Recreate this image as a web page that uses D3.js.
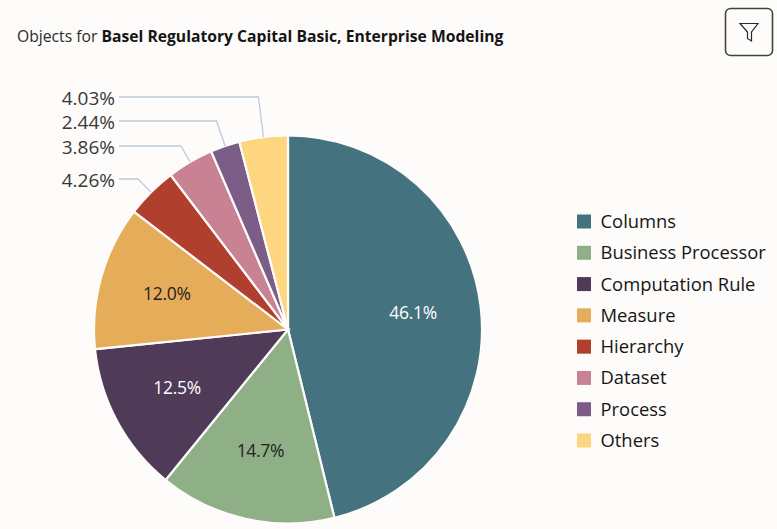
<!DOCTYPE html>
<html><head><meta charset="utf-8">
<script src="https://cdn.jsdelivr.net/npm/d3@7/dist/d3.min.js"></script>
<style>html,body{margin:0;padding:0;background:#fdfcfb;overflow:hidden}svg{display:block}text{font-family:"Open Sans",sans-serif}</style>
</head><body><svg id="c" width="777" height="529"></svg>
<script>
const categories=["Columns","Business Processor","Computation Rule","Measure","Hierarchy","Dataset","Process","Others"];
const values=[46.1,14.7,12.5,12.0,4.26,3.86,2.44,4.03];
const labels=["46.1%","14.7%","12.5%","12.0%","4.26%","3.86%","2.44%","4.03%"];
const colors=["#44727e","#8fb087","#4f3a57","#e5ac5a","#b13f2e","#c98294","#7c5d88","#fdd67f"];
const labelInk=["#ffffff","#1f1f1f","#ffffff","#1f1f1f"];
const leaderRows=[null,null,null,null,179,146,121,97];

const svg=d3.select("#c");
svg.append("rect").attr("x",-6).attr("y",-2).attr("width",800).attr("height",540).attr("rx",8)
  .attr("fill","#fdfcfb").attr("stroke","#d6d4cf").attr("stroke-width",2);
const t=svg.append("text").attr("x",17).attr("y",41.5).attr("font-size",15.7).attr("fill","#2c2a28");
t.append("tspan").text("Objects for ");
t.append("tspan").attr("font-weight",700).attr("fill","#161513").text("Basel Regulatory Capital Basic, Enterprise Modeling");
svg.append("rect").attr("x",725.5).attr("y",8.5).attr("width",47).attr("height",47).attr("rx",5)
  .attr("fill","none").attr("stroke","#454340").attr("stroke-width",1.6);
svg.append("path").attr("d","M740 23.5H758L751.5 32V41L747.5 38.5V32Z").attr("fill","none").attr("stroke","#2a2a2a").attr("stroke-width",1.2);

const cx=288,cy=329.5,R=194;
const g=svg.append("g").attr("transform",`translate(${cx},${cy})`);
const pie=d3.pie().sort(null).value(d=>d)(values);
const arc=d3.arc().innerRadius(0).outerRadius(R);
const inner=d3.arc().innerRadius(126).outerRadius(126);
g.selectAll("path.s").data(pie).join("path").attr("class","s").attr("d",arc)
  .attr("fill",(d,i)=>colors[i]).attr("stroke","#fdfcfb").attr("stroke-width",2.2);
g.selectAll("text.in").data(pie.slice(0,4)).join("text").attr("class","in")
  .attr("x",d=>inner.centroid(d)[0]).attr("y",d=>inner.centroid(d)[1]-1.5).attr("dy","0.35em")
  .attr("text-anchor","middle").attr("font-size",17.5).attr("letter-spacing",-0.3)
  .attr("fill",(d,i)=>labelInk[i]).text((d,i)=>labels[i]);
const LX=119-cx;
pie.forEach((d,i)=>{
  if(leaderRows[i]===null)return;
  const a=(d.startAngle+d.endAngle)/2, s=Math.sin(a), c=-Math.cos(a);
  const ey=leaderRows[i]-cy, r=ey/c, ex=r*s;
  g.append("path").attr("fill","none").attr("stroke","#bccada").attr("stroke-width",1.3)
    .attr("d",d3.line()([[LX,ey],[ex,ey],[R*s,R*c]]));
  g.append("text").attr("x",LX-4).attr("y",ey+1.5).attr("dy","0.35em").attr("text-anchor","end")
    .attr("font-size",19).attr("fill","#3a3836").text(labels[i]);
});
const ly=d3.scalePoint().domain(categories).range([221.5,440.5]);
const lg=svg.append("g").selectAll("g").data(categories).join("g").attr("transform",d=>`translate(577,${ly(d)})`);
lg.append("rect").attr("x",0).attr("y",-7).attr("width",14).attr("height",14).attr("fill",(d,i)=>colors[i]);
lg.append("text").attr("x",23.5).attr("dy","0.35em").attr("font-size",18.4).attr("fill","#161513").text(d=>d);
</script></body></html>
